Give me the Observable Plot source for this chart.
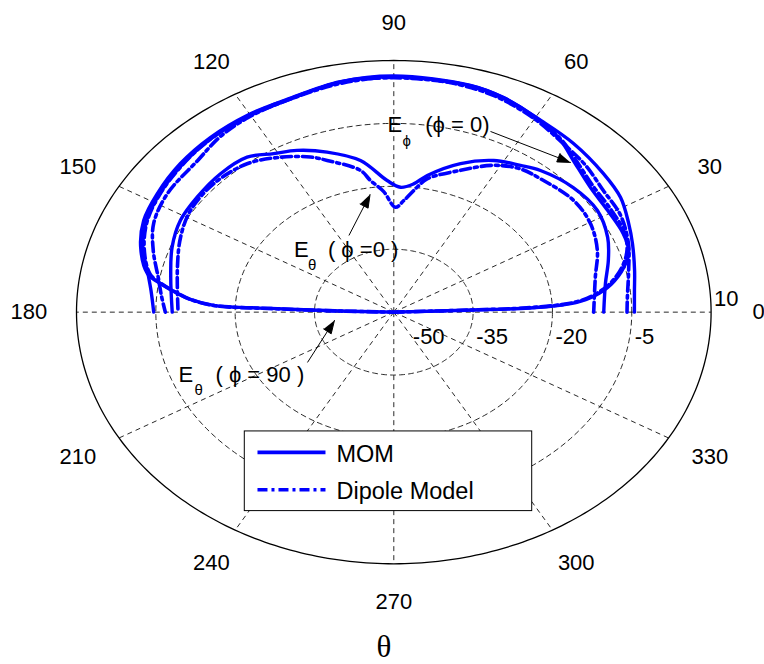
<!DOCTYPE html>
<html>
<head>
<meta charset="utf-8">
<script src="https://cdn.jsdelivr.net/npm/d3@7"></script>
<script src="https://cdn.jsdelivr.net/npm/@observablehq/plot@0.6"></script>
<style>
  html, body { margin: 0; padding: 0; background: #fff; }
  #chart svg { display: block; }
</style>
</head>
<body>
<div id="chart"></div>
<script>
// ---------------- data (angle θ in degrees, level in dB) ----------------
const rMin = -50, rMax = 10;
const ringValues = [-35, -20, -5];
const radialTickLabels = [-50, -35, -20, -5, 10];
const angleTicks = [0, 30, 60, 90, 120, 150, 180, 210, 240, 270, 300, 330];
const seriesNames = ["MOM", "Dipole Model"];

// E_phi (phi = 0)
const ephiMomTheta = [0, 6.5, 12.3, 19.9, 25.5, 32.5, 39.8, 49.8, 58.7, 67.9, 75, 90, 100.4, 111.7, 120.5, 129.8, 138.7, 147.7, 155.2, 162.1, 168.8, 173.6, 180];
const ephiMomDb    = [-4.5, -4.2, -3.4, -2.0, -0.8, 0.85, 1.6, 2.65, 3.5, 5.2, 6.0, 6.3, 5.8, 4.4, 4.2, 3.9, 3.3, 2.5, 1.6, -0.1, -2.6, -3.8, -4.6];
const ephiDipTheta = [0, 4.5, 12.6, 20.3, 28.3, 36.2, 44.0, 50.8, 60, 70, 80, 90, 100, 110, 120, 128, 135.7, 146.5, 155.0, 162.1, 169.5, 175, 180];
const ephiDipDb    = [-5.9, -5.7, -4.5, -2.7, -1.3, -0.9, 0.4, 1.3, 3.2, 5.0, 5.8, 6.0, 5.5, 4.5, 4.0, 3.2, 1.8, 1.3, 0.1, -2.2, -4.7, -5.9, -6.8];

// E_theta (phi = 90)
const eth90MomTheta = [0, 2.0, 2.1, 2.8, 3.8, 5.7, 9.1, 13.8, 18.3, 23.4, 30.9, 38.6, 46.8, 52.4, 60, 68, 75, 90, 100.4, 111.7, 120.5, 129.8, 138.7, 147.7, 155.2, 162.1, 168.8, 171.2, 173.8, 175.5, 177.3, 177.8, 178.4, 180];
const eth90MomDb    = [-50, -35.1, -26.0, -19.8, -15.5, -12.0, -8.4, -5.2, -3.2, -2.75, -2.85, -2.4, -0.4, 1.7, 3.6, 5.2, 5.9, 6.1, 5.9, 4.6, 4.5, 4.2, 3.7, 2.9, 2.1, 0.3, -2.5, -5.35, -8.9, -11.4, -15.9, -26.7, -39.9, -50];
const eth90DipTheta = [0, 2.0, 2.2, 2.9, 3.9, 5.9, 9.4, 14.2, 18.8, 24, 31, 38.6, 46.8, 52.4, 60, 68, 75, 90, 100.4, 111.7, 120.5, 129.8, 138.7, 147.7, 155.2, 162.1, 168.8, 171.4, 174, 175.7, 177.4, 177.9, 178.5, 180];
const eth90DipDb    = [-50, -35.5, -26.5, -20.2, -15.8, -12.3, -8.6, -5.4, -3.4, -2.4, -2.2, -1.8, 0.1, 1.9, 3.5, 5.0, 5.8, 5.9, 5.7, 4.5, 4.3, 3.9, 3.2, 2.4, 1.4, -0.4, -3.0, -5.8, -9.3, -11.8, -16.2, -27, -40, -50];

// E_theta (phi = 0)
const eth0MomTheta = [0, 9.7, 16.9, 23.8, 32.2, 41.2, 50.6, 55.6, 62.4, 70.4, 79.0, 83.0, 87.6, 92.3, 99.9, 108.3, 115.4, 121.0, 126.9, 134.8, 143.6, 151.5, 159.7, 168.8, 180];
const eth0MomDb    = [-10.3, -9.4, -7.6, -5.8, -4.5, -4.9, -6.3, -7.6, -9.2, -12.4, -16.8, -19.2, -20.2, -18.6, -13.3, -9.8, -7.3, -5.9, -3.8, -3.5, -3.8, -4.1, -5.3, -7.0, -8.1];
const eth0DipTheta = [0, 12.3, 20.9, 29.5, 38.0, 48.9, 55.0, 61.6, 69.5, 78.8, 81.6, 85.9, 89.3, 93.8, 98.0, 100.6, 109.2, 113.1, 120.1, 128.1, 138.0, 147.8, 156.1, 165.3, 180];
const eth0DipDb    = [-12.2, -11.0, -8.8, -7.25, -6.8, -7.8, -8.3, -10.2, -13.9, -17.6, -19.9, -23.3, -25.0, -21.2, -18.3, -15.6, -11.7, -9.8, -7.3, -5.05, -4.2, -4.55, -5.9, -7.7, -9.2];

// annotation arrows: [theta, dB] of tail and tip
const annotationArrows = [
  {tail: [67.0, -3.2],    tip: [46.9, -1.1]},
  {tail: [114.9, -29.85], tip: [99.1, -21.6]},
  {tail: [216.3, -29.75], tip: [190.0, -38.6]}
];

// ---------------- layout ----------------
const W = 764, H = 664, ML = 76, MR = 53.4, MT = 60, MB = 100.7;
const kx = (W - ML - MR) / 2, ky = (H - MT - MB) / 2; // px per unit
const BLUE = "#0000ff";
const DASHDOT = "10,4,3,4";
const FONT = "'Liberation Sans', Arial, Helvetica, sans-serif";

const rad = a => a * Math.PI / 180;
const R = db => Math.max(0, (db - rMin) / (rMax - rMin));
const toXY = (t, db) => ({x: R(db) * Math.cos(rad(t)), y: R(db) * Math.sin(rad(t))});
const pts = (th, db) => th.map((t, i) => toXY(t, db[i]));
const ellipse = r => d3.range(0, 361, 1).map(a => ({x: r * Math.cos(rad(a)), y: r * Math.sin(rad(a))}));

const ringPts = ringValues.flatMap(v => ellipse(R(v)).map(p => ({...p, v})));

const solidCurves = [pts(ephiMomTheta, ephiMomDb), pts(eth90MomTheta, eth90MomDb), pts(eth0MomTheta, eth0MomDb)];
const dashCurves = [pts(ephiDipTheta, ephiDipDb), pts(eth90DipTheta, eth90DipDb), pts(eth0DipTheta, eth0DipDb)];

// arrows
const arrows = annotationArrows.map((a, i) => {
  const s = toXY(...a.tail), e = toXY(...a.tip);
  const dxp = (e.x - s.x) * kx, dyp = -(e.y - s.y) * ky;
  const len = Math.hypot(dxp, dyp), ux = dxp / len, uy = dyp / len;
  const L = 13, hw = 4.5;
  const bx = -L * ux, by = -L * uy;
  const toU = (ox, oy) => ({x: e.x + ox / kx, y: e.y - oy / ky, id: i});
  return {
    s, base: toU(bx * 0.8, by * 0.8),
    tri: [toU(0, 0), toU(bx - hw * uy, by + hw * ux), toU(bx + hw * uy, by - hw * ux)]
  };
});

// legend box (axes units)
const legendBox = {x1: -0.4696, x2: 0.4362, y1: -0.7906, y2: -0.474};
const legendLineX = [-0.4296, -0.2153];
const legendTextX = -0.1806;
const legendRows = [
  {name: seriesNames[0], lineY: -0.5574, textY: -0.596, dash: null},
  {name: seriesNames[1], lineY: -0.7056, textY: -0.7414, dash: DASHDOT}
];

// annotation text parts (offsets relative to arrow tail, px)
const annParts = [
  [ {t: "E", dx: -103, dy: 1, fs: 22, ta: "start"}, {t: "ϕ", dx: -88, dy: 15, fs: 15, ta: "start"}, {t: "(ϕ = 0)", dx: -1, dy: 1, fs: 22, ta: "end"} ],
  [ {t: "E", dx: -55, dy: 22, fs: 22, ta: "start"}, {t: "θ", dx: -41, dy: 35, fs: 15, ta: "start"}, {t: "( ϕ =0 )", dx: -21, dy: 22, fs: 22, ta: "start"} ],
  [ {t: "E", dx: -129, dy: 20, fs: 22, ta: "start"}, {t: "θ", dx: -113, dy: 33, fs: 15, ta: "start"}, {t: "( ϕ = 90 )", dx: -92, dy: 20, fs: 22, ta: "start"} ]
];

const marks = [];
// grid: rings & spokes
marks.push(Plot.line(ringPts, {x: "x", y: "y", z: "v", stroke: "#111", strokeWidth: 0.9, strokeDasharray: "5,4"}));
marks.push(Plot.link(angleTicks, {x1: () => 0, y1: () => 0, x2: a => Math.cos(rad(a)), y2: a => Math.sin(rad(a)), stroke: "#111", strokeWidth: 0.9, strokeDasharray: "5,4"}));
// outer boundary
marks.push(Plot.line(ellipse(1), {x: "x", y: "y", stroke: "black", strokeWidth: 1.3}));
// curves
for (const c of solidCurves) marks.push(Plot.line(c, {x: "x", y: "y", stroke: BLUE, strokeWidth: 3.4, curve: "catmull-rom", strokeLinejoin: "round"}));
for (const c of dashCurves) marks.push(Plot.line(c, {x: "x", y: "y", stroke: BLUE, strokeWidth: 3.6, curve: "catmull-rom", strokeDasharray: DASHDOT}));
// angle labels
marks.push(Plot.text(angleTicks, {x: a => 1.15 * Math.cos(rad(a)), y: a => 1.15 * Math.sin(rad(a)), text: a => String(a), fontSize: 22, fill: "black", textAnchor: "middle", lineAnchor: "middle"}));
// radial labels
marks.push(Plot.text(radialTickLabels.filter(v => v === rMin), {x: v => R(v), y: () => 0, text: v => String(v), fontSize: 22, fill: "black", textAnchor: "start", lineAnchor: "middle", dx: 19, dy: 25}));
marks.push(Plot.text(radialTickLabels.filter(v => v > rMin && v < rMax), {x: v => R(v), y: () => 0, text: v => String(v), fontSize: 22, fill: "black", textAnchor: "start", lineAnchor: "middle", dx: 3, dy: 25}));
marks.push(Plot.text(radialTickLabels.filter(v => v === rMax), {x: v => R(v), y: () => 0, text: v => String(v), fontSize: 22, fill: "black", textAnchor: "start", lineAnchor: "middle", dx: 3, dy: -13}));
// annotations
arrows.forEach((a, i) => {
  marks.push(Plot.link([a], {x1: d => d.s.x, y1: d => d.s.y, x2: d => d.base.x, y2: d => d.base.y, stroke: "black", strokeWidth: 1}));
  marks.push(Plot.line(a.tri, {x: "x", y: "y", fill: "black", stroke: "black", strokeWidth: 1, strokeLinejoin: "miter"}));
  for (const p of annParts[i]) {
    marks.push(Plot.text([a.s], {x: "x", y: "y", text: () => p.t, fontSize: p.fs, fill: "black", textAnchor: p.ta, lineAnchor: "bottom", dx: p.dx, dy: p.dy}));
  }
});
// legend
marks.push(Plot.rect([legendBox], {x1: "x1", x2: "x2", y1: "y1", y2: "y2", fill: "white", stroke: "black", strokeWidth: 1}));
for (const row of legendRows) {
  marks.push(Plot.link([row], {x1: () => legendLineX[0], x2: () => legendLineX[1], y1: d => d.lineY, y2: d => d.lineY, stroke: BLUE, strokeWidth: 3.6, strokeDasharray: row.dash || null}));
  marks.push(Plot.text([row], {x: () => legendTextX, y: d => d.textY, text: d => d.name, fontSize: 23.5, fill: "black", textAnchor: "start", lineAnchor: "bottom"}));
}
// x label θ
marks.push(Plot.text(["θ"], {x: () => 0, y: () => -1, text: d => d, fontSize: 31, fontFamily: "'Liberation Serif', 'Times New Roman', serif", fill: "black", textAnchor: "middle", lineAnchor: "middle", dx: -10, dy: 83}));

const chart = Plot.plot({
  width: W, height: H,
  marginLeft: ML, marginRight: MR, marginTop: MT, marginBottom: MB,
  x: {domain: [-1, 1], axis: null},
  y: {domain: [-1, 1], axis: null},
  style: {fontFamily: FONT, background: "white", overflow: "visible"},
  marks
});
document.getElementById("chart").append(chart);
</script>
</body>
</html>
